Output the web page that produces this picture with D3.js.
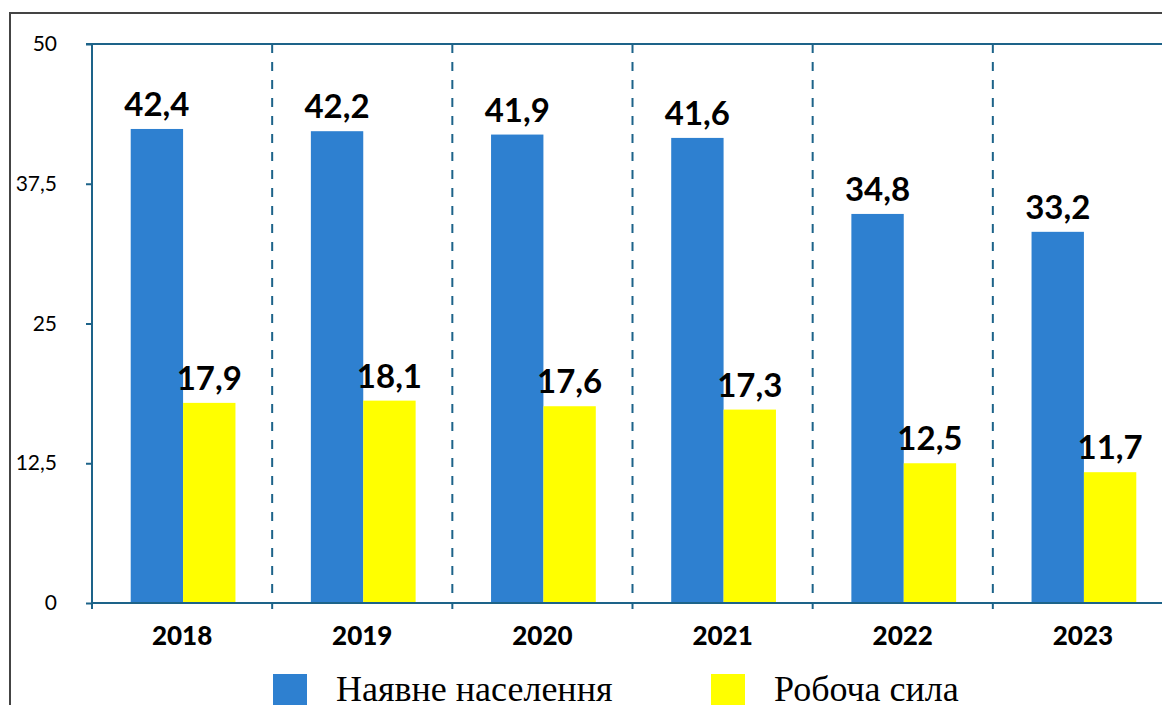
<!DOCTYPE html>
<html>
<head>
<meta charset="utf-8">
<script src="https://cdn.jsdelivr.net/npm/d3@7"></script>
<style>
  body { margin: 0; background: #fff; }
  svg { display: block; }
</style>
</head>
<body>
<div id="chart"></div>
<script>
// chart data
var years = [ "2018", "2019", "2020", "2021", "2022", "2023" ];
var population = [ 42.4, 42.2, 41.9, 41.6, 34.8, 33.2 ];
var laborForce = [ 17.9, 18.1, 17.6, 17.3, 12.5, 11.7 ];
var seriesNames = [ "Наявне населення", "Робоча сила" ];
var yTicks = [ 0, 12.5, 25, 37.5, 50 ];

var width = 1162, height = 705;
var axisColor = "#1d6389";
var colors = [ "#2e80d0", "#ffff00" ];
var numFont = "Lato, 'Open Sans', sans-serif";

var svg = d3.select( "#chart" ).append( "svg" )
  .attr( "width", width )
  .attr( "height", height );

// outer frame (extends past the window on the right and bottom)
svg.append( "path" )
  .attr( "d", "M10," + height + "V13H" + width )
  .attr( "fill", "none" )
  .attr( "stroke", "#444" )
  .attr( "stroke-width", 2 );

var x0 = d3.scaleBand().domain( years ).range( [ 92, 1173 ] );
var x1 = d3.scaleBand().domain( seriesNames )
  .range( [ 0, x0.bandwidth() ] )
  .paddingOuter( 0.72 );
var y = d3.scaleLinear().domain( [ 0, 50 ] ).range( [ 603, 44 ] );

var rows = years.map( function( yr, i ) {
  return { year: yr, values: [ population[ i ], laborForce[ i ] ] };
} );

// dashed separators between years
svg.append( "g" ).selectAll( "line" )
  .data( years.slice( 1 ) )
  .join( "line" )
  .attr( "x1", function( d ) { return x0( d ); } )
  .attr( "x2", function( d ) { return x0( d ); } )
  .attr( "y1", y( 50 ) )
  .attr( "y2", y( 0 ) )
  .attr( "stroke", axisColor )
  .attr( "stroke-width", 2 )
  .attr( "stroke-dasharray", "9,9" );

// bars
var groups = svg.append( "g" ).selectAll( "g" )
  .data( rows )
  .join( "g" )
  .attr( "transform", function( d ) { return "translate(" + ( x0( d.year ) + 1 ) + ",0)"; } );

groups.selectAll( "rect" )
  .data( function( d ) { return d.values; } )
  .join( "rect" )
  .attr( "x", function( d, i ) { return x1( seriesNames[ i ] ); } )
  .attr( "width", x1.bandwidth() )
  .attr( "y", function( d ) { return y( d ); } )
  .attr( "height", function( d ) { return y( 0 ) - y( d ); } )
  .attr( "fill", function( d, i ) { return colors[ i ]; } );

groups.selectAll( "text" )
  .data( function( d ) { return d.values; } )
  .join( "text" )
  .attr( "x", function( d, i ) { return x1( seriesNames[ i ] ) + x1.bandwidth() / 2; } )
  .attr( "y", function( d ) { return y( d ) - 13; } )
  .attr( "text-anchor", "middle" )
  .attr( "font-family", numFont )
  .attr( "font-weight", "bold" )
  .attr( "font-size", 33 )
  .attr( "fill", "#000" )
  .text( function( d ) { return String( d.toFixed( 1 ) ).replace( ".", "," ); } );

// y axis
var yAxis = svg.append( "g" )
  .attr( "transform", "translate(92,0)" )
  .call( d3.axisLeft( y ).tickValues( yTicks ).tickSize( 6 ).tickPadding( 29 )
    .tickFormat( function( d ) { return String( d ).replace( ".", "," ); } ) );
yAxis.select( ".domain" ).attr( "stroke", axisColor ).attr( "stroke-width", 2 )
  .attr( "d", "M0," + y( 50 ) + "V" + y( 0 ) );
yAxis.selectAll( ".tick line" ).attr( "stroke", axisColor ).attr( "stroke-width", 2 );
yAxis.selectAll( ".tick text" )
  .attr( "font-family", numFont )
  .attr( "font-size", 21 )
  .attr( "fill", "#000" );

// top border line of the plot
svg.append( "line" )
  .attr( "x1", 86 ).attr( "x2", width )
  .attr( "y1", y( 50 ) ).attr( "y2", y( 50 ) )
  .attr( "stroke", axisColor )
  .attr( "stroke-width", 2 );

// x axis
var xAxis = svg.append( "g" )
  .attr( "transform", "translate(0," + y( 0 ) + ")" );
xAxis.append( "line" )
  .attr( "x1", 92 ).attr( "x2", width )
  .attr( "stroke", axisColor ).attr( "stroke-width", 2 );
xAxis.selectAll( "line.tick" )
  .data( years )
  .join( "line" )
  .attr( "class", "tick" )
  .attr( "x1", function( d ) { return x0( d ); } )
  .attr( "x2", function( d ) { return x0( d ); } )
  .attr( "y1", 0 ).attr( "y2", 6 )
  .attr( "stroke", axisColor ).attr( "stroke-width", 2 );
xAxis.selectAll( "text" )
  .data( years )
  .join( "text" )
  .attr( "x", function( d ) { return x0( d ) + x0.bandwidth() / 2; } )
  .attr( "y", 42 )
  .attr( "text-anchor", "middle" )
  .attr( "font-family", numFont )
  .attr( "font-weight", "900" )
  .attr( "font-size", 26 )
  .attr( "fill", "#000" )
  .text( function( d ) { return d; } );

// legend
var legendX = [ 273, 711 ];
var legend = svg.append( "g" ).selectAll( "g" )
  .data( seriesNames )
  .join( "g" )
  .attr( "transform", function( d, i ) { return "translate(" + legendX[ i ] + ",674)"; } );
legend.append( "rect" )
  .attr( "width", 34 ).attr( "height", 32 )
  .attr( "fill", function( d, i ) { return colors[ i ]; } );
legend.append( "text" )
  .attr( "x", 63 )
  .attr( "y", 27 )
  .attr( "font-family", "'Liberation Serif', 'Times New Roman', serif" )
  .attr( "font-size", 36 )
  .attr( "fill", "#000" )
  .text( function( d ) { return d; } );
</script>
</body>
</html>
